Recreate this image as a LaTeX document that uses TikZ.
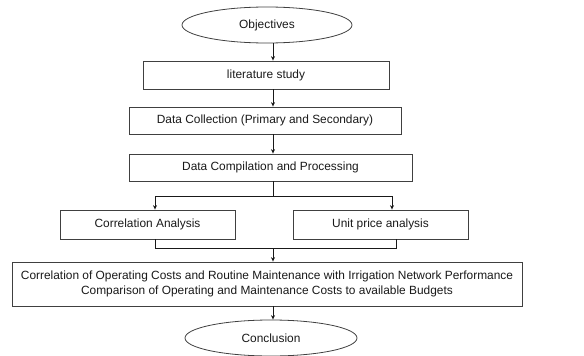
\documentclass[tikz,border=0pt]{standalone}
\usepackage{fontspec}
\setmainfont{Liberation Sans}
\usetikzlibrary{shapes.geometric,arrows.meta}
\begin{document}
\begin{tikzpicture}[x=1pt,y=-1pt,
  every node/.style={font=\fontsize{11.9}{14.8}\selectfont, text=black!90},
  box/.style={draw=black!75, line width=0.8pt, rectangle, inner sep=0pt, align=center},
  oval/.style={draw=black!75, line width=0.8pt, ellipse, inner sep=0pt},
  arr/.style={draw=black!90, line width=0.8pt, -{Stealth[length=4.5pt,width=4pt]}},
  ln/.style={draw=black!90, line width=0.8pt}]
\useasboundingbox (0,0) rectangle (584,356);
\node[oval, minimum width=170, minimum height=36] (obj) at (267,25) {Objectives};
\node[box, minimum width=246, minimum height=28] (lit) at (266,75) {literature study};
\node[box, minimum width=272, minimum height=27] (dc) at (265,120.5) {Data Collection (Primary and Secondary)};
\node[box, minimum width=283, minimum height=27] (dcp) at (270.5,167.5) {Data Compilation and Processing};
\node[box, minimum width=175, minimum height=29] (ca) at (147.5,224.5) {Correlation Analysis};
\node[box, minimum width=175, minimum height=29] (up) at (380.5,224.5) {Unit price analysis};
\node[box, minimum width=510, minimum height=44] (big) at (267,284) {Correlation of Operating Costs and Routine Maintenance with Irrigation Network Performance\\Comparison of Operating and Maintenance Costs to available Budgets};
\node[oval, minimum width=172, minimum height=36] (con) at (271,338) {Conclusion};
\draw[arr] (obj.south -| 273,0) -- (lit.north -| 273,0);
\draw[arr] (lit.south -| 273,0) -- (dc.north -| 273,0);
\draw[arr] (dc.south -| 273,0) -- (dcp.north -| 273,0);
\coordinate (s) at (273,196);
\coordinate (sl) at (155,196);
\coordinate (sr) at (392,196);
\draw[ln] (dcp.south -| s) -- (s);
\draw[ln] (sl) -- (sr);
\draw[arr] (sl) -- (ca.north -| sl);
\draw[arr] (sr) -- (up.north -| sr);
\coordinate (ml) at (155,248);
\coordinate (mr) at (396,248);
\coordinate (m) at (273,248);
\draw[ln] (ca.south -| ml) -- (ml) -- (mr) -- (up.south -| mr);
\draw[arr] (m) -- (big.north -| m);
\draw[arr] (big.south -| 273,0) -- (con.north -| 273,0);
\end{tikzpicture}
\end{document}
